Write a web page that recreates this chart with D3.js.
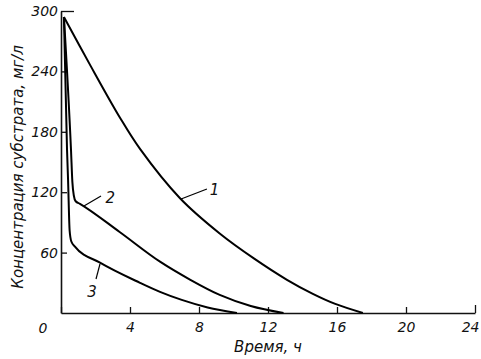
<!DOCTYPE html>
<html><head><meta charset="utf-8">
<script src="https://cdn.jsdelivr.net/npm/d3@7"></script>
<style>
html,body{margin:0;padding:0;background:#fff;}
svg text{font-family:"DejaVu Sans",sans-serif;font-style:italic;fill:#111;}
</style></head>
<body><svg id="c" width="481" height="359"></svg>
<script>
// Data
const timeTicks = [0, 4, 8, 12, 16, 20, 24];
const concTicks = [0, 60, 120, 180, 240, 300];
const curve1T = [0.17, 1.7, 3.42, 4.58, 6.9, 9.2, 11.2, 13.1, 14.6, 15.9, 17.5];
const curve1V = [294, 246, 194, 163, 114, 79, 54, 33, 19, 9, 0];
const curve2T = [0.17, 0.58, 0.66, 0.74, 0.85, 1.1, 3.4, 5.74, 7.5, 9.2, 11.0, 12.9];
const curve2V = [294, 162, 130, 117, 111, 108.5, 80.5, 51, 33, 18, 7, 0];
const curve3T = [0.17, 0.35, 0.41, 0.5, 0.6, 0.81, 2.26, 4.58, 5.74, 7.0, 8.5, 10.2];
const curve3V = [294, 162, 132, 82, 71, 66, 50, 30, 21, 13, 5.5, 0];
const curveLabels = ["1", "2", "3"];
const xTitle = "Время, ч";
const yTitle = "Концентрация субстрата, мг/л";

const svg = d3.select("#c");
const x = d3.scaleLinear().domain([0, 24]).range([61, 475]);
const y = d3.scaleLinear().domain([0, 300]).range([313, 11]);

// axes
const xAxis = d3.axisBottom(x).tickValues(timeTicks).tickSizeInner(-6).tickSizeOuter(0).tickPadding(9)
  .tickFormat(d => d === 0 ? "" : d);
const gx = svg.append("g").attr("transform", `translate(0,${y(0)})`).call(xAxis);
gx.selectAll("text").attr("font-size", 14).attr("dy", "0.71em");
gx.selectAll(".tick line").filter(d => d === 24).attr("y2", -8);
gx.selectAll(".tick text").filter(d => d === 24).attr("text-anchor", "end").attr("x", 4);

const yAxis = d3.axisLeft(y).tickValues(concTicks).tickSizeInner(-6).tickSizeOuter(0).tickPadding(3)
  .tickFormat(d => d === 0 ? "" : d);
const gy = svg.append("g").attr("transform", `translate(${x(0)},0)`).call(yAxis);
gy.selectAll("text").attr("font-size", 14);
gy.selectAll(".tick line").filter(d => d === 300).attr("x2", 13);
gy.selectAll(".tick line").filter(d => d === 0).remove();

[gx, gy].forEach(g => {
  g.selectAll("path.domain").attr("stroke", "#111").attr("stroke-width", 1.6);
  g.selectAll(".tick line").attr("stroke", "#111").attr("stroke-width", 1.3);
  g.selectAll("text").attr("fill", "#111").style("font-family", "'DejaVu Sans',sans-serif").style("font-style", "italic");
});

// origin label
svg.append("text").attr("x", x(0) - 18).attr("y", y(0) + 20).attr("text-anchor", "middle")
  .attr("font-size", 14).text("0");

// curves
const smooth = d3.line().x(d => x(d[0])).y(d => y(d[1])).curve(d3.curveCatmullRom.alpha(0.5));
const mono = d3.line().x(d => x(d[0])).y(d => y(d[1])).curve(d3.curveMonotoneX);
[[curve1T, curve1V, smooth], [curve2T, curve2V, mono], [curve3T, curve3V, mono]].forEach(([t, v, gen]) => {
  svg.append("path").datum(t.map((ti, i) => [ti, v[i]]))
    .attr("d", gen).attr("fill", "none").attr("stroke", "#000").attr("stroke-width", 2);
});

// curve labels with leaders (data coordinates)
const leaders = [
  [[6.96, 113.2], [8.46, 123.2], [8.9, 122.2]],
  [[1.33, 106.3], [2.32, 116.2], [2.86, 114.2]],
  [[2.26, 48.7], [2.03, 33.8], [1.80, 20.9]]
];
leaders.forEach((L, i) => {
  svg.append("line").attr("x1", x(L[0][0])).attr("y1", y(L[0][1]))
    .attr("x2", x(L[1][0])).attr("y2", y(L[1][1])).attr("stroke", "#000").attr("stroke-width", 1.2);
  svg.append("text").attr("x", x(L[2][0])).attr("y", y(L[2][1]) + 5).attr("text-anchor", "middle")
    .attr("font-size", 15).text(curveLabels[i]);
});

// titles
svg.append("text").attr("x", 268).attr("y", 352).attr("text-anchor", "middle")
  .attr("font-size", 15).text(xTitle);
svg.append("text").attr("transform", "translate(23,167) rotate(-90)").attr("text-anchor", "middle")
  .attr("font-size", 15).text(yTitle);
</script></body></html>
